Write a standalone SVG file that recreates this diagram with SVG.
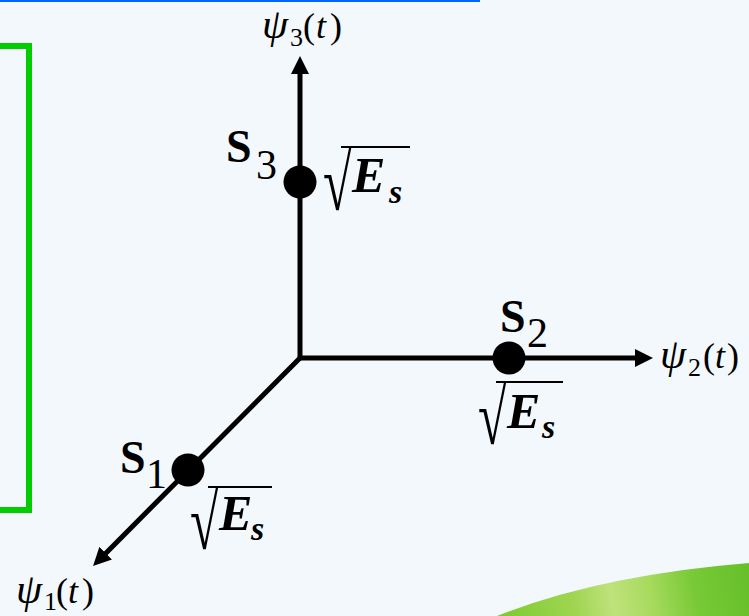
<svg xmlns="http://www.w3.org/2000/svg" width="749" height="616" viewBox="0 0 749 616">
<style>
text{font-family:"Liberation Serif","Times New Roman",serif;fill:#000}
.it{font-style:italic}
.psi{font-size:36px}
.ps{font-size:42px;font-style:italic}
.sub{font-size:26px;font-style:normal}
.S{font-size:46px;font-weight:bold}
.Sd{font-size:42px}
.E{font-size:50px;font-weight:bold;font-style:italic}
.s{font-size:34px;font-weight:bold;font-style:italic}
.rad{font-size:52px}
.axis{stroke:#000;stroke-width:5;fill:none;stroke-linecap:round}
.vinc{stroke:#000;stroke-width:2;fill:none}
</style>
<defs>
<marker id="ah" viewBox="0 0 18 18" refX="8" refY="9" markerWidth="18" markerHeight="18" markerUnits="userSpaceOnUse" orient="auto">
<path d="M0,0 L18,9 L0,18 Z" fill="#000"/>
</marker>
<linearGradient id="hill" gradientUnits="userSpaceOnUse" x1="500" y1="616" x2="749" y2="575">
<stop offset="0" stop-color="#7CCB30"/>
<stop offset="0.3" stop-color="#A0D552"/>
<stop offset="0.45" stop-color="#BFE27C"/>
<stop offset="0.6" stop-color="#A8DA5E"/>
<stop offset="0.78" stop-color="#78C936"/>
<stop offset="1" stop-color="#66C02A"/>
</linearGradient>
</defs>
<rect x="0" y="0" width="749" height="616" fill="#F3F8FC"/>
<rect x="0" y="0" width="480" height="2" fill="#0066FF"/>
<path d="M497,616 Q600,575 749,563 L749,616 Z" fill="url(#hill)"/>
<rect id="frame" x="-10" y="46" width="39" height="464" fill="none" stroke="#00CC00" stroke-width="6"/>
<g id="connectors">
<line class="axis" x1="300" y1="358" x2="300" y2="66" marker-end="url(#ah)"/>
<line class="axis" x1="300" y1="358" x2="643" y2="358" marker-end="url(#ah)"/>
<line class="axis" x1="300" y1="358" x2="100.1" y2="558.9" marker-end="url(#ah)"/>
</g>
<g id="axis3">
<text class="psi"><tspan class="ps" x="262" y="38">ψ</tspan><tspan class="sub" x="290" y="46">3</tspan><tspan x="303" y="38">(</tspan><tspan class="it" x="316" y="38">t</tspan><tspan x="330" y="38">)</tspan></text>
</g>
<g id="axis2">
<text class="psi"><tspan class="ps" x="660" y="368">ψ</tspan><tspan class="sub" x="688" y="376">2</tspan><tspan x="703" y="368">(</tspan><tspan class="it" x="715" y="368">t</tspan><tspan x="727" y="368">)</tspan></text>
</g>
<g id="axis1">
<text class="psi"><tspan class="ps" x="16" y="603">ψ</tspan><tspan class="sub" x="44" y="610">1</tspan><tspan x="56" y="603">(</tspan><tspan class="it" x="68" y="603">t</tspan><tspan x="82" y="603">)</tspan></text>
</g>
<g id="s3">
<circle cx="300" cy="182" r="16.5" fill="#000"/>
<text class="S" x="226" y="162">S</text>
<text class="Sd" x="256" y="179">3</text>
<text class="rad" transform="translate(323,210) scale(1,1.53)">√</text>
<line class="vinc" x1="341" y1="147" x2="410" y2="147"/>
<text class="E" x="352" y="192">E</text>
<text class="s" x="389" y="203">s</text>
</g>
<g id="s2">
<circle cx="509" cy="358" r="16.5" fill="#000"/>
<text class="S" x="500" y="332">S</text>
<text class="Sd" x="527" y="347">2</text>
<text class="rad" transform="translate(478,444) scale(1,1.53)">√</text>
<line class="vinc" x1="496" y1="382" x2="563" y2="382"/>
<text class="E" x="507" y="428">E</text>
<text class="s" x="542" y="438">s</text>
</g>
<g id="s1">
<circle cx="188" cy="470" r="16.5" fill="#000"/>
<text class="S" x="120" y="473">S</text>
<text class="Sd" x="146" y="488">1</text>
<text class="rad" transform="translate(190,549) scale(1,1.53)">√</text>
<line class="vinc" x1="208" y1="487" x2="272" y2="487"/>
<text class="E" x="219" y="530">E</text>
<text class="s" x="251" y="540">s</text>
</g>
</svg>
